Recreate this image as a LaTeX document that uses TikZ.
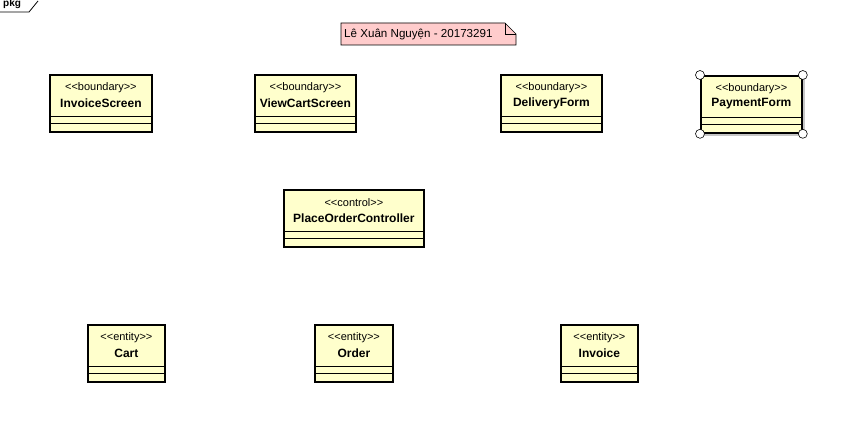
\documentclass[tikz,border=0pt]{standalone}
\usepackage{fontspec}
\setmainfont{Liberation Sans}
\usetikzlibrary{calc}
\definecolor{clsfill}{RGB}{255,255,204}
\definecolor{notefill}{RGB}{255,204,204}
\tikzset{
  cls/.style={draw=black, line width=1.8pt, fill=clsfill, inner sep=0pt, rectangle},
  stereo/.style={font=\fontsize{11}{12}\selectfont, inner sep=0pt},
  cname/.style={font=\fontsize{12}{13}\selectfont\bfseries, inner sep=0pt},
  sepline/.style={line width=0.9pt},
  handle/.style={draw=black, fill=white, line width=0.6pt, circle, minimum size=9pt, inner sep=0pt},
}
\newcommand\lt{{<}}
\newcommand\gtx{{>}}
% #1 name, #2 left, #3 top, #4 right, #5 bottom, #6 stereotype, #7 title
\newcommand\umlclass[7]{%
  \node[cls, minimum width={#4-#2}, minimum height={#5-#3}, anchor=north west] (#1) at (#2,#3) {};
  \node[stereo] (#1-st) at ($(#1.north)+(0,13.5)$) {\lt\lt#6\gtx\gtx};
  \node[cname] (#1-nm) at ($(#1.north)+(0,29)$) {#7};
  \coordinate (#1-a) at ($(#1.north)+(0,42)$);
  \coordinate (#1-b) at ($(#1.north)+(0,49)$);
  \draw[sepline] (#1.west |- #1-a) -- (#1.east |- #1-a);
  \draw[sepline] (#1.west |- #1-b) -- (#1.east |- #1-b);
}
\begin{document}
\begin{tikzpicture}[x=1pt, y=-1pt]
\useasboundingbox (0,0) rectangle (845,430);
\fill[white] (0,0) rectangle (845,430);
% package tab
\coordinate (t0) at (0,12);
\coordinate (t1) at (29,12);
\coordinate (t2) at (38,1);
\draw[line width=0.8pt] (t0) -- (t1) -- (t2);
\node[font=\fontsize{10}{12}\selectfont\bfseries, inner sep=0pt, anchor=south west] (pkg) at (3,9) {pkg};
% note
\coordinate (n1) at (341,23);
\coordinate (n2) at (505,23);
\coordinate (n3) at (516,34);
\coordinate (n4) at (516,45);
\coordinate (n5) at (341,45);
\coordinate (n6) at (505,34);
\draw[fill=notefill, line width=0.6pt] (n1) -- (n2) -- (n3) -- (n4) -- (n5) -- cycle;
\draw[line width=0.6pt] (n2) -- (n6) -- (n3);
\node[font=\fontsize{11.6}{13}\selectfont, inner sep=0pt, anchor=west] (note) at (344,34) {Lê Xuân Nguyện - 20173291};
% boundary classes
\umlclass{inv}{49}{74}{151}{131}{boundary}{InvoiceScreen}
\umlclass{vcs}{254}{74}{355}{131}{boundary}{ViewCartScreen}
\umlclass{dlv}{500}{74}{601}{131}{boundary}{DeliveryForm}
% PaymentForm with shadow
\fill[gray!45] (704,79) rectangle (805,136);
\umlclass{pay}{700}{75}{801}{132}{boundary}{PaymentForm}
\node[handle] (h1) at (pay.north west) {};
\node[handle] (h2) at (pay.north east) {};
\node[handle] (h3) at (pay.south west) {};
\node[handle] (h4) at (pay.south east) {};
% control
\umlclass{poc}{283}{189}{423}{246}{control}{PlaceOrderController}
% entities
\umlclass{cart}{87}{324}{164}{381}{entity}{Cart}
\umlclass{ord}{314}{324}{392}{381}{entity}{Order}
\umlclass{invc}{560}{324}{637}{381}{entity}{Invoice}
\end{tikzpicture}
\end{document}
